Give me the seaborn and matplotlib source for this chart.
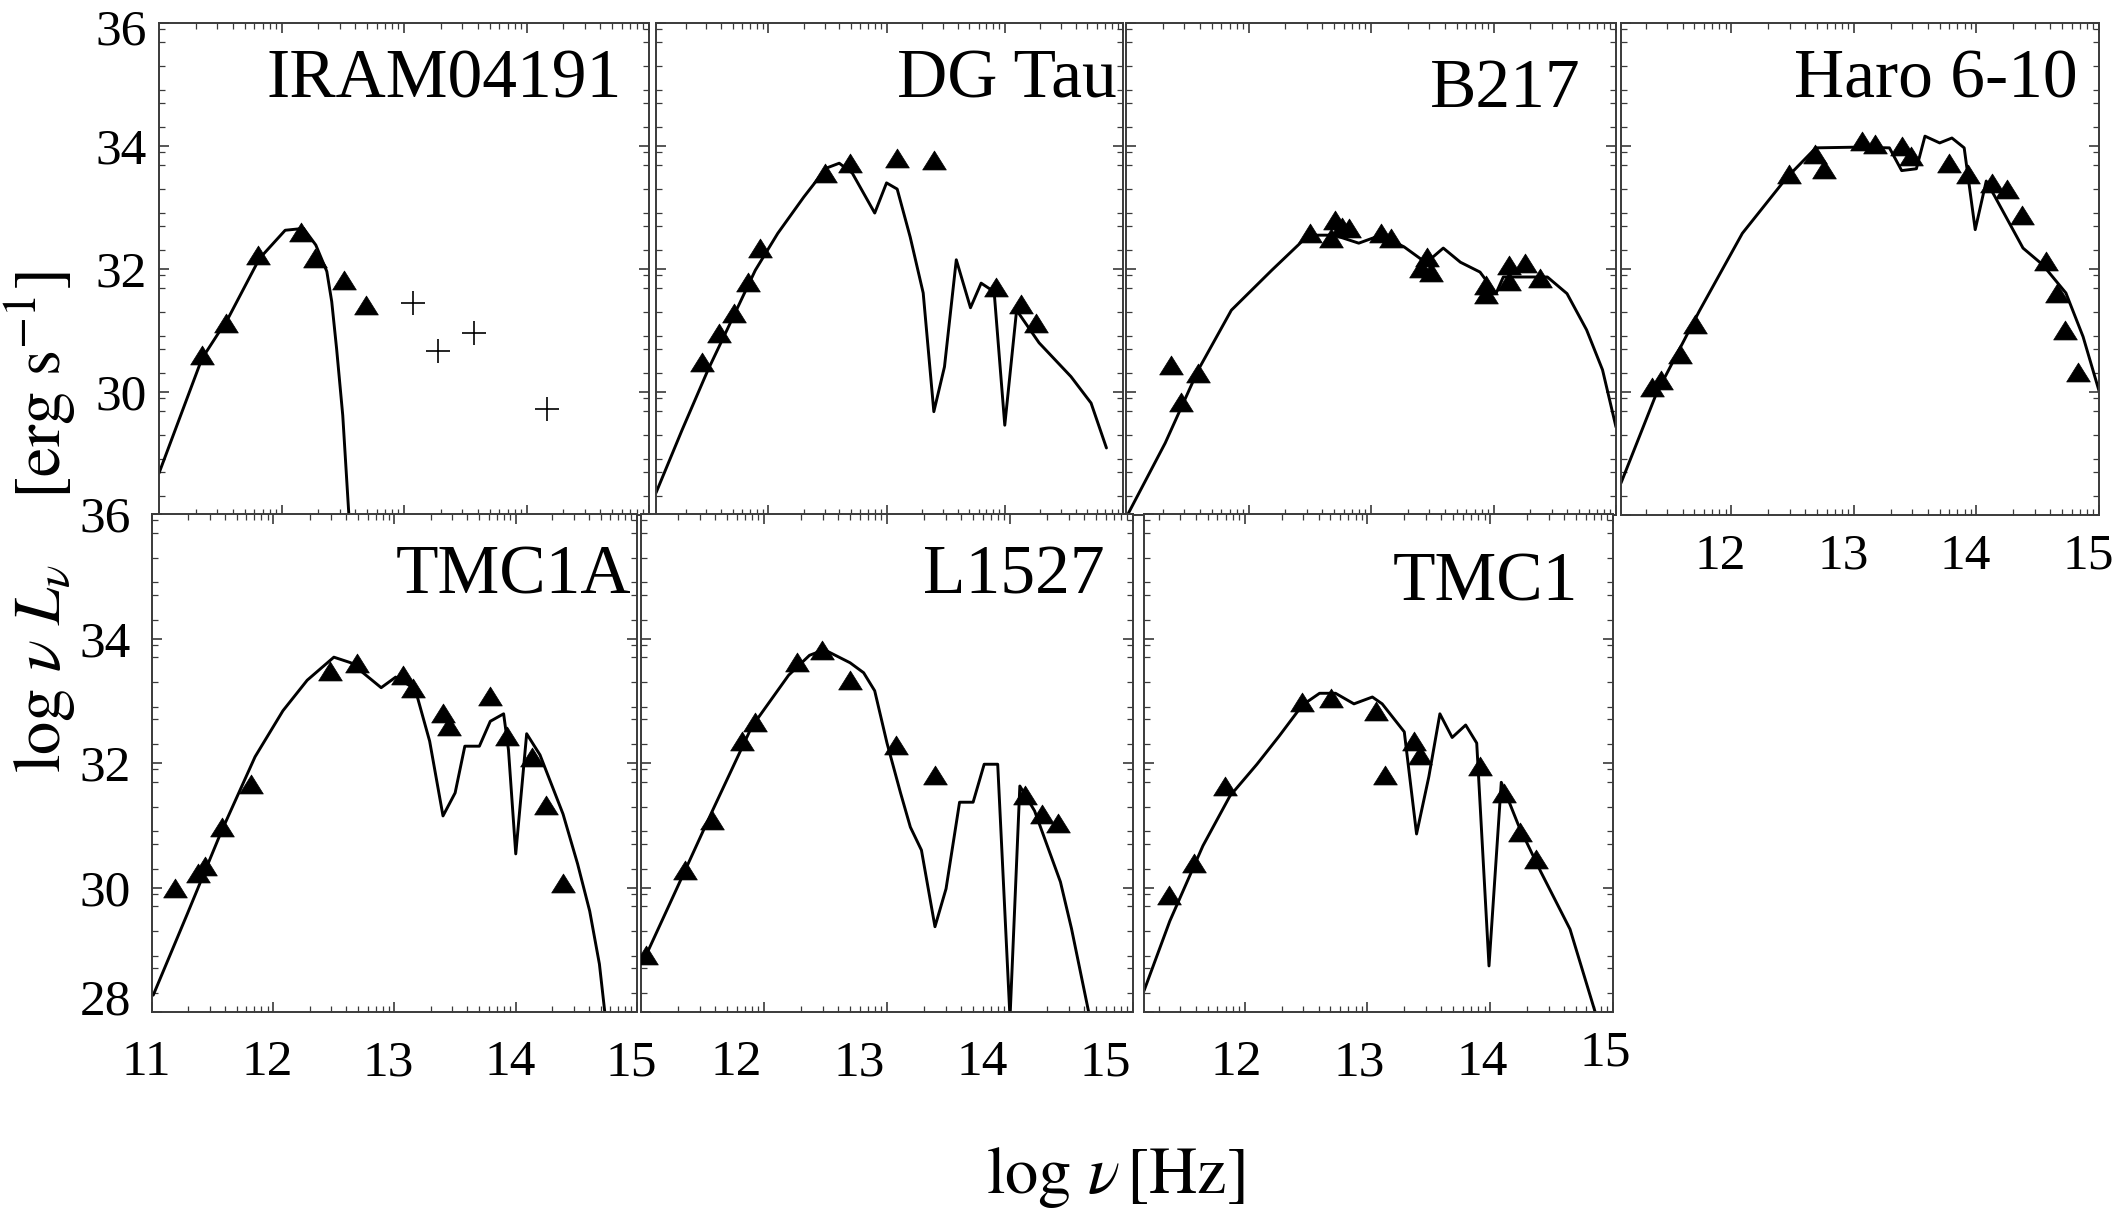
import numpy as np
import pandas as pd
import matplotlib
matplotlib.use("Agg")
import matplotlib.pyplot as plt
import matplotlib.transforms as mtransforms
from matplotlib.path import Path
from matplotlib.ticker import FixedLocator
import seaborn as sns

sns.set_style("ticks")
plt.rcParams['font.family'] = ['Liberation Serif', 'DejaVu Serif']
plt.rcParams['mathtext.fontset'] = 'stix'
plt.rcParams['text.color'] = 'black'
plt.rcParams['xtick.labelcolor'] = 'black'
plt.rcParams['ytick.labelcolor'] = 'black'

# ---------------- data (log nu [Hz], log nu L_nu [erg/s]) ----------------
names = ["IRAM04191", "DG Tau", "B217", "Haro 6-10", "TMC1A", "L1527", "TMC1"]

iram_obs_x = [11.35, 11.55, 11.81, 12.16, 12.27, 12.51, 12.69]
iram_obs_y = [30.60, 31.12, 32.23, 32.60, 32.18, 31.82, 31.41]
iram_lim_x = [13.07, 13.28, 13.57, 14.17]
iram_lim_y = [31.44, 30.67, 30.96, 29.72]
iram_mod_x = [11.00, 11.35, 11.57, 11.82, 12.03, 12.18, 12.28, 12.37, 12.41, 12.45, 12.50, 12.55, 12.57]
iram_mod_y = [28.68, 30.54, 31.22, 32.17, 32.63, 32.66, 32.39, 31.96, 31.47, 30.70, 29.62, 28.00, 27.50]

dgt_obs_x = [11.44, 11.58, 11.71, 11.83, 11.93, 12.48, 12.69, 13.09, 13.40, 13.93, 14.14, 14.26]
dgt_obs_y = [30.49, 30.96, 31.28, 31.79, 32.34, 33.56, 33.72, 33.80, 33.77, 31.71, 31.43, 31.12]
dgt_mod_x = [11.05, 11.27, 11.49, 11.71, 11.89, 12.08, 12.30, 12.49, 12.60, 12.71, 12.90, 13.00, 13.09,
             13.20, 13.31, 13.40, 13.49, 13.59, 13.71, 13.80, 13.91, 14.00, 14.10, 14.29, 14.56, 14.73, 14.86]
dgt_mod_y = [28.36, 29.38, 30.36, 31.25, 31.98, 32.58, 33.17, 33.64, 33.72, 33.56, 32.91, 33.40, 33.30,
             32.52, 31.61, 29.68, 30.41, 32.15, 31.37, 31.77, 31.63, 29.46, 31.33, 30.80, 30.25, 29.82, 29.09]

b217_obs_x = [11.37, 11.45, 11.59, 12.50, 12.67, 12.71, 12.76, 12.82, 13.08, 13.16, 13.46, 13.41, 13.49,
              13.94, 13.94, 14.13, 14.13, 14.26, 14.38]
b217_obs_y = [30.44, 29.84, 30.31, 32.59, 32.50, 32.80, 32.68, 32.67, 32.59, 32.50, 32.20, 32.01, 31.95,
              31.74, 31.60, 32.07, 31.80, 32.10, 31.85]
b217_mod_x = [11.02, 11.32, 11.59, 11.86, 12.19, 12.49, 12.70, 12.90, 13.08, 13.27, 13.45, 13.59, 13.73,
              13.89, 14.02, 14.08, 14.44, 14.60, 14.76, 14.89, 15.00]
b217_mod_y = [28.03, 29.17, 30.36, 31.33, 31.98, 32.55, 32.55, 32.42, 32.55, 32.36, 32.10, 32.34, 32.11,
              31.95, 31.60, 31.87, 31.87, 31.60, 31.01, 30.36, 29.43]

haro_obs_x = [11.35, 11.43, 11.58, 11.70, 12.47, 12.68, 12.76, 13.07, 13.17, 13.39, 13.47, 13.78, 13.93,
              14.13, 14.25, 14.37, 14.57, 14.66, 14.72, 14.83]
haro_obs_y = [30.08, 30.20, 30.62, 31.10, 33.54, 33.87, 33.63, 34.08, 34.03, 34.00, 33.84, 33.72, 33.54,
              33.40, 33.30, 32.88, 32.13, 31.61, 31.01, 30.33]
haro_mod_x = [11.10, 11.39, 11.74, 12.09, 12.45, 12.69, 12.99, 13.29, 13.39, 13.51, 13.58, 13.70, 13.80,
              13.90, 13.99, 14.08, 14.15, 14.38, 14.54, 14.73, 14.87, 15.00]
haro_mod_y = [28.52, 29.98, 31.32, 32.58, 33.48, 33.97, 33.98, 33.97, 33.60, 33.63, 34.16, 34.05, 34.13,
              33.97, 32.64, 33.43, 33.18, 32.34, 32.07, 31.61, 30.90, 30.02]

tmc1a_obs_x = [11.19, 11.38, 11.44, 11.58, 11.82, 12.47, 12.69, 13.07, 13.15, 13.40, 13.45, 13.79, 13.93,
               14.13, 14.25, 14.39]
tmc1a_obs_y = [30.00, 30.23, 30.35, 30.97, 31.66, 33.48, 33.61, 33.41, 33.21, 32.81, 32.60, 33.08, 32.43,
               32.10, 31.33, 30.07]
tmc1a_mod_x = [11.01, 11.29, 11.57, 11.85, 12.08, 12.28, 12.50, 12.64, 12.89, 13.01, 13.17, 13.29, 13.40,
               13.50, 13.58, 13.70, 13.79, 13.90, 13.94, 14.00, 14.09, 14.20, 14.39, 14.51, 14.61, 14.69, 14.74]
tmc1a_mod_y = [28.27, 29.57, 30.89, 32.10, 32.84, 33.33, 33.70, 33.61, 33.21, 33.38, 33.19, 32.35, 31.15,
               31.52, 32.27, 32.27, 32.67, 32.79, 32.21, 30.54, 32.47, 32.13, 31.18, 30.38, 29.62, 28.77, 27.90]

l1527_obs_x = [11.04, 11.36, 11.58, 11.82, 11.93, 12.27, 12.47, 12.70, 13.07, 13.39, 14.12, 14.26, 14.39]
l1527_obs_y = [28.92, 30.28, 31.08, 32.35, 32.66, 33.62, 33.82, 33.33, 32.29, 31.81, 31.49, 31.18, 31.04]
l1527_mod_x = [11.02, 11.29, 11.58, 11.90, 12.20, 12.37, 12.49, 12.70, 12.81, 12.90, 13.00, 13.11, 13.19,
               13.28, 13.39, 13.48, 13.59, 13.70, 13.79, 13.90, 14.00, 14.08, 14.20, 14.41, 14.50, 14.65]
l1527_mod_y = [28.82, 29.98, 31.23, 32.58, 33.41, 33.73, 33.82, 33.61, 33.45, 33.16, 32.32, 31.52, 30.97,
               30.60, 29.37, 29.98, 31.37, 31.37, 31.98, 31.98, 27.90, 31.63, 31.23, 30.09, 29.34, 27.90]

tmc1_obs_x = [11.38, 11.59, 11.84, 12.47, 12.70, 13.07, 13.14, 13.38, 13.43, 13.92, 14.11, 14.24, 14.37]
tmc1_obs_y = [29.88, 30.40, 31.63, 32.98, 33.04, 32.84, 31.81, 32.35, 32.13, 31.95, 31.52, 30.89, 30.46]
tmc1_mod_x = [11.18, 11.39, 11.66, 11.88, 12.10, 12.28, 12.47, 12.61, 12.74, 12.89, 13.04, 13.12, 13.30,
              13.40, 13.50, 13.59, 13.69, 13.80, 13.89, 13.99, 14.09, 14.23, 14.41, 14.65, 14.87]
tmc1_mod_y = [28.34, 29.46, 30.67, 31.47, 31.98, 32.43, 32.93, 33.12, 33.12, 32.95, 33.06, 32.95, 32.50,
              30.86, 31.78, 32.79, 32.41, 32.61, 32.32, 28.74, 31.69, 31.00, 30.26, 29.33, 27.90]

obs_x = [iram_obs_x, dgt_obs_x, b217_obs_x, haro_obs_x, tmc1a_obs_x, l1527_obs_x, tmc1_obs_x]
obs_y = [iram_obs_y, dgt_obs_y, b217_obs_y, haro_obs_y, tmc1a_obs_y, l1527_obs_y, tmc1_obs_y]
mod_x = [iram_mod_x, dgt_mod_x, b217_mod_x, haro_mod_x, tmc1a_mod_x, l1527_mod_x, tmc1_mod_x]
mod_y = [iram_mod_y, dgt_mod_y, b217_mod_y, haro_mod_y, tmc1a_mod_y, l1527_mod_y, tmc1_mod_y]

y_ticks_top = [30, 32, 34, 36]
y_ticks_bottom = [28, 30, 32, 34, 36]
x_ticks_first = [11, 12, 13, 14, 15]
x_ticks_other = [12, 13, 14, 15]

# ---------------- layout (pixel boxes: left, top, right, bottom) ----------------
W, H = 2121, 1213
fig = plt.figure(figsize=(W / 100, H / 100), dpi=100)

boxes = [(159, 23, 649, 515), (656, 23, 1123, 515), (1126, 23, 1616, 515), (1621, 23, 2099, 515),
         (152, 514, 637, 1012), (641, 514, 1133, 1012), (1144, 514, 1613, 1012)]
xlims = [(11.0, 15.0), (11.05, 14.86), (11.0, 15.0), (11.1, 15.0),
         (11.0, 15.0), (11.0, 15.0), (11.18, 15.0)]
title_pos = [(0.945, 0.848), (0.987, 0.848), (0.927, 0.829), (0.956, 0.848),
             (0.988, 0.841), (0.943, 0.841), (0.925, 0.827)]

tri = Path([(0, 0.8), (-1, -0.8), (1, -0.8), (0, 0.8)],
           [Path.MOVETO, Path.LINETO, Path.LINETO, Path.CLOSEPOLY])

minor_x = [n + np.log10(k) for n in range(10, 16) for k in range(2, 10)]
minor_y = [n + np.log10(k) for n in range(27, 37) for k in (2, 5, 8)]

spine_col = '#3a3a3a'
TICK_FS = 37


def shift(label, dx, dy):
    label.set_transform(label.get_transform() +
                        mtransforms.ScaledTranslation(dx / 100, dy / 100, fig.dpi_scale_trans))


axes = []
for i, (l, t, r, b) in enumerate(boxes):
    ax = fig.add_axes([l / W, 1 - b / H, (r - l) / W, (b - t) / H])
    axes.append(ax)

    mdf = pd.DataFrame({'x': mod_x[i], 'y': mod_y[i]})
    sns.lineplot(data=mdf, x='x', y='y', sort=False, estimator=None, color='black',
                 lw=2.1, ax=ax)
    odf = pd.DataFrame({'x': obs_x[i], 'y': obs_y[i]})
    sns.scatterplot(data=odf, x='x', y='y', marker=tri, s=290, color='black',
                    edgecolor='black', linewidth=0.5, ax=ax, zorder=3)
    if i == 0:
        ldf = pd.DataFrame({'x': iram_lim_x, 'y': iram_lim_y})
        sns.scatterplot(data=ldf, x='x', y='y', marker='+', s=280, color='black',
                        linewidth=1.2, ax=ax, zorder=3)

    ax.set_xlim(*xlims[i])
    ax.set_ylim(28, 36)
    ax.set_xlabel('')
    ax.set_ylabel('')

    for sp in ax.spines.values():
        sp.set_visible(True)
        sp.set_color(spine_col)
        sp.set_linewidth(1.4)

    ax.xaxis.set_minor_locator(FixedLocator(minor_x))
    ax.yaxis.set_minor_locator(FixedLocator(minor_y))
    ax.tick_params(which='both', direction='in', top=True, right=True, color=spine_col)
    ax.tick_params(which='major', length=7, width=1.2)
    ax.tick_params(which='minor', length=4, width=0.9)

    # y tick labels
    if i == 0:
        ax.set_yticks(y_ticks_top)
        ax.set_yticklabels([str(v) for v in y_ticks_top])
        ax.tick_params(axis='y', labelsize=TICK_FS, pad=9)
    elif i == 4:
        ax.set_yticks(y_ticks_bottom)
        ax.set_yticklabels([str(v) for v in y_ticks_bottom])
        ax.tick_params(axis='y', labelsize=TICK_FS, pad=15)
    else:
        ax.set_yticks(y_ticks_bottom)
        ax.set_yticklabels([])

    # x tick labels
    if i == 4:
        ax.set_xticks(x_ticks_first)
        ax.set_xticklabels([str(v) for v in x_ticks_first])
        ax.tick_params(axis='x', labelsize=TICK_FS, pad=20)
    elif i in (3, 5, 6):
        ax.set_xticks(x_ticks_other)
        ax.set_xticklabels([str(v) for v in x_ticks_other])
        ax.tick_params(axis='x', labelsize=TICK_FS, pad=(13 if i == 3 else 20))
    else:
        ax.set_xticks(x_ticks_other)
        ax.set_xticklabels([])

    ax.text(title_pos[i][0], title_pos[i][1], names[i], transform=ax.transAxes,
            ha='right', va='baseline', fontsize=50, color='black', zorder=5)

# offsets of tick labels as placed in the original composite figure
for tk in axes[0].yaxis.get_major_ticks():
    if tk.get_loc() == 36:
        shift(tk.label1, 0, -4)
for tk in axes[4].yaxis.get_major_ticks():
    if tk.get_loc() == 28:
        shift(tk.label1, 0, 15)
x_shift = {3: -11, 4: -6, 5: -28, 6: -8}
for i, dx in x_shift.items():
    for tk in axes[i].xaxis.get_major_ticks():
        dy = 10 if (i == 6 and tk.get_loc() == 15) else 0
        shift(tk.label1, dx, dy)

fig.text(1115 / W, 1 - 1177 / H, r'$\mathrm{log}\ \nu\,[\mathrm{Hz}]$', ha='center', va='center',
         fontsize=48, color='black')
fig.text(40 / W, 1 - 522 / H, r'$\mathrm{log}\ \nu\ L_{\nu}\ \ \ \ [\mathrm{erg\ s^{-1}}]$',
         ha='center', va='center', rotation=90, fontsize=48, color='black')

fig.savefig('out.png', dpi=100)
